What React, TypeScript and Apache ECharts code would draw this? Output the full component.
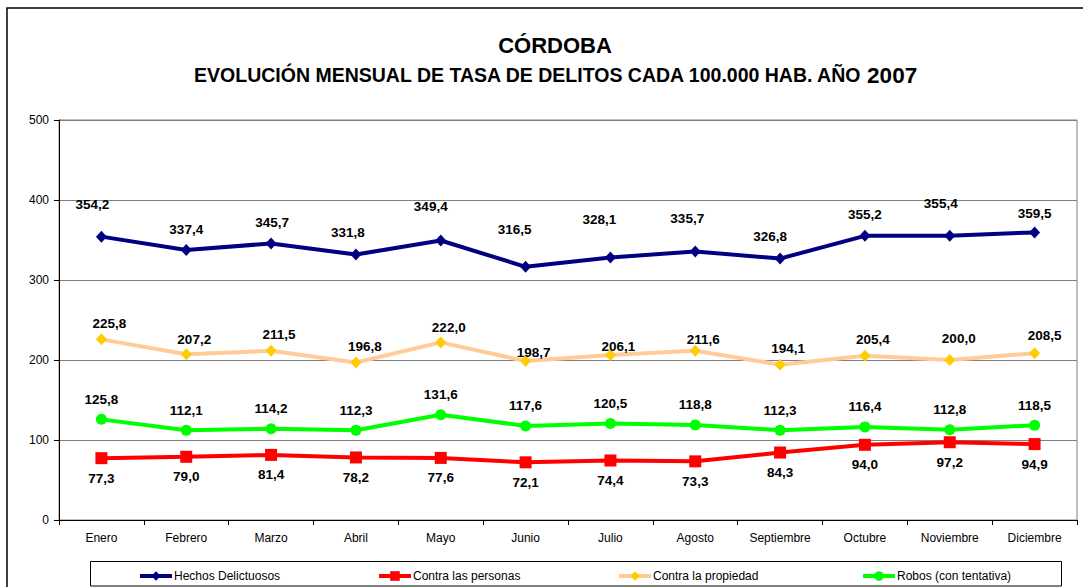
import React, { useEffect, useRef } from 'react';
import * as echarts from 'echarts';

const months = ['Enero', 'Febrero', 'Marzo', 'Abril', 'Mayo', 'Junio', 'Julio', 'Agosto', 'Septiembre', 'Octubre', 'Noviembre', 'Diciembre'];
const seriesNames = ['Hechos Delictuosos', 'Contra las personas', 'Contra la propiedad', 'Robos (con tentativa)'];
const hechos = [354.2, 337.4, 345.7, 331.8, 349.4, 316.5, 328.1, 335.7, 326.8, 355.2, 355.4, 359.5];
const personas = [77.3, 79.0, 81.4, 78.2, 77.6, 72.1, 74.4, 73.3, 84.3, 94.0, 97.2, 94.9];
const propiedad = [225.8, 207.2, 211.5, 196.8, 222.0, 198.7, 206.1, 211.6, 194.1, 205.4, 200.0, 208.5];
const robos = [125.8, 112.1, 114.2, 112.3, 131.6, 117.6, 120.5, 118.8, 112.3, 116.4, 112.8, 118.5];
const yMin = 0;
const yMax = 500;
const yStep = 100;

// label placement (style only, px relative to the point)
const hechosLabelDx = [-9, 0, 1, -8, -10, -11, -11, -8, -10, 0, -9, 0];
const hechosLabelDy = [32, 21, 21, 22, 34, 37, 38, 33, 22, 21, 32, 19];
const propLabelDx = [8, 8, 8, 9, 8, 8, 8, 8, 8, 8, 9, 10];
const propLabelDy = [16, 15, 16, 16, 15, 9, 9, 11, 16, 16, 22, 18];
const legendLeft = [138, 377, 617, 861];

const FONT = '"Liberation Sans", Arial, sans-serif';
const fmt = (p: any) => Number(p.value).toFixed(1).replace('.', ',');

const baseLabel = {
  show: true,
  position: 'inside',
  fontSize: 13.5,
  fontWeight: 'bold',
  fontFamily: FONT,
  color: '#000',
  textBorderWidth: 0,
  formatter: fmt,
};

export default function App() {
  const ref = useRef<HTMLDivElement>(null);
  useEffect(() => {
    document.body.style.margin = '0';
    if (!ref.current) return;
    const chart = echarts.init(ref.current, undefined, { renderer: 'svg' });
    const option: any = {
      animation: false,
      backgroundColor: '#fff',
      grid: {
        left: 59, right: 6, top: 120, bottom: 67,
        show: true, borderColor: '#808080', borderWidth: 1, containLabel: false,
      },
      xAxis: {
        type: 'category',
        data: months,
        boundaryGap: true,
        axisLine: { lineStyle: { color: '#000', width: 1 } },
        axisTick: { show: true, length: 5, lineStyle: { color: '#000' } },
        axisLabel: { color: '#000', fontSize: 12, fontFamily: FONT, margin: 12, interval: 0 },
        splitLine: { show: false },
      },
      yAxis: {
        type: 'value',
        min: yMin, max: yMax, interval: yStep,
        axisLine: { show: true, lineStyle: { color: '#000', width: 1 } },
        axisTick: { show: true, length: 5, lineStyle: { color: '#000' } },
        axisLabel: { color: '#000', fontSize: 12, fontFamily: FONT, margin: 10 },
        splitLine: { show: true, lineStyle: { color: '#808080', width: 1 } },
      },
      legend: seriesNames.map((n, i) => ({
        data: [n],
        left: legendLeft[i],
        top: 570,
        padding: 0,
        itemWidth: 32,
        itemHeight: 12,
        selectedMode: false,
        lineStyle: { width: 4 },
        textStyle: { color: '#000', fontSize: 12, fontFamily: FONT, padding: [0, 0, 0, -3] },
      })),
      series: [
        {
          name: seriesNames[2], type: 'line', data: propiedad.map((v, i) => ({ value: v, label: { offset: [propLabelDx[i], -propLabelDy[i]] } })),
          symbol: 'diamond', symbolSize: [11, 12],
          lineStyle: { color: '#FFCC99', width: 4 },
          itemStyle: { color: '#FFCC00' },
          label: baseLabel,
        },
        {
          name: seriesNames[3], type: 'line', data: robos,
          symbol: 'circle', symbolSize: 11,
          lineStyle: { color: '#00FF00', width: 4 },
          itemStyle: { color: '#00FF00' },
          label: { ...baseLabel, offset: [0, -20] },
        },
        {
          name: seriesNames[1], type: 'line', data: personas,
          symbol: 'rect', symbolSize: 12,
          lineStyle: { color: '#FF0000', width: 4 },
          itemStyle: { color: '#FF0000' },
          label: { ...baseLabel, offset: [0, 20] },
        },
        {
          name: seriesNames[0], type: 'line', data: hechos.map((v, i) => ({ value: v, label: { offset: [hechosLabelDx[i], -hechosLabelDy[i]] } })),
          symbol: 'diamond', symbolSize: [11, 12],
          lineStyle: { color: '#000080', width: 4 },
          itemStyle: { color: '#000080' },
          label: baseLabel,
        },
      ],
      graphic: [
        {
          type: 'rect', silent: true, z: 100,
          shape: { x: 7, y: 8, width: 1130, height: 640 },
          style: { fill: 'none', stroke: '#000', lineWidth: 1.5 },
        },
        {
          type: 'rect', silent: true, z: 100,
          shape: { x: 90.5, y: 561.5, width: 971, height: 24.5 },
          style: { fill: 'none', stroke: '#000', lineWidth: 1 },
        },
        {
          type: 'text', x: 555, y: 45, silent: true,
          style: { text: 'CÓRDOBA', fontSize: 22, fontWeight: 'bold', fontFamily: FONT, fill: '#000', align: 'center', verticalAlign: 'middle' },
        },
        {
          type: 'text', x: 555, y: 75, silent: true,
          style: {
            text: 'EVOLUCIÓN MENSUAL DE TASA DE DELITOS CADA 100.000 HAB. AÑO {y|2007}',
            fontSize: 19.5, fontWeight: 'bold', fontFamily: FONT, fill: '#000', align: 'center', verticalAlign: 'middle',
            rich: { y: { fontSize: 22.5, fontWeight: 'bold', fontFamily: FONT, fill: '#000' } },
          },
        },
      ],
    };
    chart.setOption(option);
    return () => chart.dispose();
  }, []);
  return <div ref={ref} style={{ width: 1083, height: 587 }} />;
}
